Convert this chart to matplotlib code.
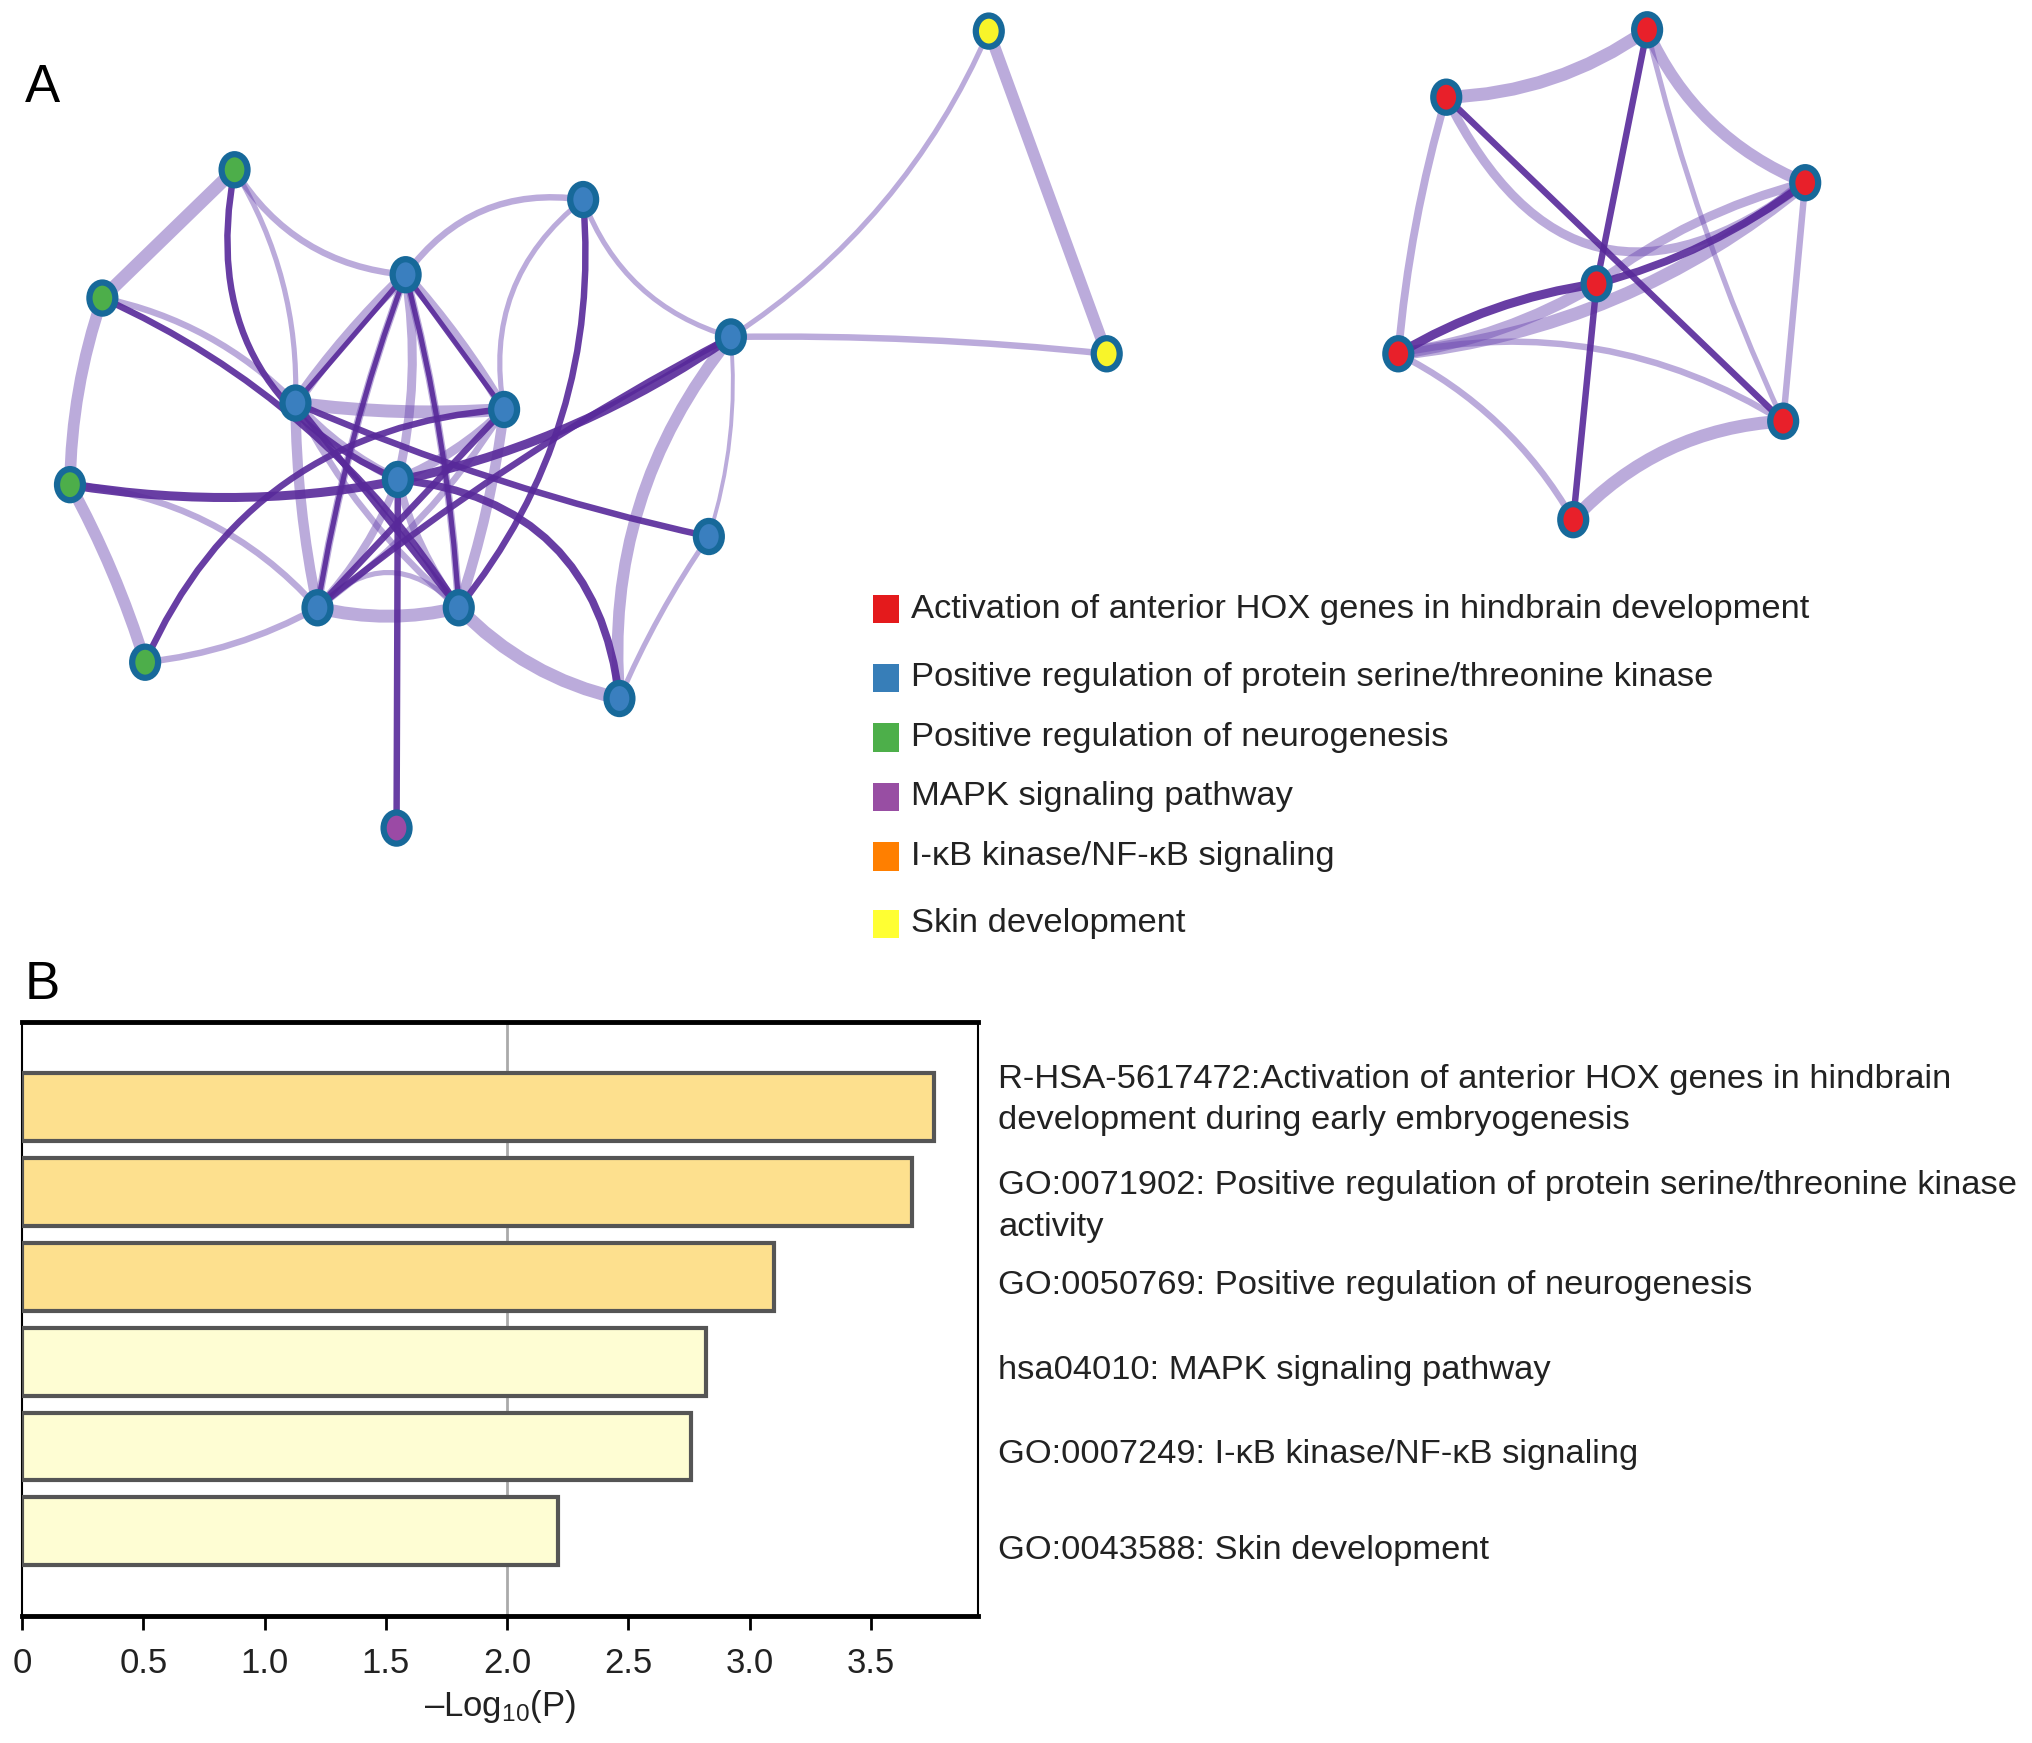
import numpy as np
import matplotlib
matplotlib.use("Agg")
import matplotlib.pyplot as plt
from matplotlib.path import Path
from matplotlib.patches import PathPatch, Ellipse, Rectangle

plt.rcParams['font.family'] = ['Liberation Sans', 'DejaVu Sans']
plt.rcParams['mathtext.fontset'] = 'custom'
plt.rcParams['mathtext.rm'] = 'Liberation Sans'
plt.rcParams['mathtext.it'] = 'Liberation Sans'

# ---- Panel A: network (positions, picture pixels) ----
node_x = [181, 79, 54, 112, 450, 313, 564, 228, 389, 307, 547, 245, 354, 478, 306, 763, 854,
          1271, 1116, 1393, 1232, 1079, 1376, 1214]
node_y = [131, 230, 374, 511, 154, 212, 260, 311, 316, 370, 414, 469, 469, 539, 639, 24, 273,
          23, 75, 141, 219, 273, 325, 401]
node_group = ['g', 'g', 'g', 'g', 'b', 'b', 'b', 'b', 'b', 'b', 'b', 'b', 'b', 'b', 'm', 'y', 'y',
              'r', 'r', 'r', 'r', 'r', 'r', 'r']

# edges: source, target, kind (l = light, d = dark), width, bend
edge_src = [0, 1, 2, 3, 0, 5, 1, 0, 2, 4, 4, 6, 6, 15, 6, 6, 10, 12, 11, 11, 7, 5, 5, 5, 5, 7, 8, 7, 8,
            9, 9, 9, 9, 9,
            0, 1, 2, 3, 4, 6, 7, 7, 8, 9, 9, 5, 5, 5, 5,
            18, 17, 18, 18, 19, 19, 21, 21, 23, 17, 20, 19,
            17, 20, 18, 19, 20]
edge_dst = [1, 2, 3, 11, 5, 4, 7, 7, 11, 6, 8, 15, 16, 16, 10, 13, 13, 13, 12, 12, 8, 7, 8, 11, 12, 11, 12, 12, 11,
            5, 7, 8, 11, 12,
            9, 12, 6, 8, 12, 11, 10, 12, 11, 14, 13, 7, 8, 11, 12,
            17, 19, 21, 19, 21, 22, 22, 23, 22, 22, 21, 20,
            20, 23, 22, 20, 21]
edge_kind = ['l'] * 34 + ['d'] * 15 + ['l'] * 12 + ['d'] * 5
edge_width = [10, 9, 9, 5, 5, 5, 5, 4, 5, 4, 4, 4, 5, 9, 3, 9, 4, 10, 10, 4, 10, 9, 8, 6, 6, 8, 8, 5, 5,
              7, 7, 7, 6, 6,
              5, 5, 7, 5, 5, 5, 5, 5, 5, 5, 6, 4, 4, 4, 4,
              10, 9, 6, 7, 10, 5, 5, 5, 10, 4, 9, 7,
              5, 5, 5, 6, 7]
edge_bend = [0.0, 0.08, -0.05, 0.1, 0.25, -0.3, -0.15, -0.15, -0.2, 0.25, 0.3, 0.15, -0.03, 0.0, -0.1, 0.2, 0.05,
             0.15, 0.12, -0.5, 0.05, 0.05, -0.05, 0.05, -0.05, 0.05, -0.05, 0.1, -0.1,
             0.1, -0.1, 0.1, -0.1, 0.1,
             0.4, -0.15, 0.2, -0.3, -0.2, 0.05, 0.05, 0.0, 0.0, 0.0, -0.4, 0.0, 0.0, 0.05, -0.05,
             0.15, 0.2, 0.05, 0.6, -0.15, 0.0, -0.2, -0.15, -0.2, 0.05, -0.1, 0.1,
             0.0, 0.0, 0.0, -0.1, 0.1]

group_face = {'g': '#4dae4a', 'b': '#3a7fbf', 'm': '#9b4aa5', 'y': '#f8f42a', 'r': '#e8202a'}

legend_labels = ['Activation of anterior HOX genes in hindbrain development',
                 'Positive regulation of protein serine/threonine kinase',
                 'Positive regulation of neurogenesis',
                 'MAPK signaling pathway',
                 'I-κB kinase/NF-κB signaling',
                 'Skin development']
legend_colors = ['#e41a1c', '#377eb8', '#4daf4a', '#984ea3', '#ff7f00', '#ffff33']

# ---- Panel B: enrichment bars ----
terms = ['R-HSA-5617472:Activation of anterior HOX genes in hindbrain\ndevelopment during early embryogenesis',
         'GO:0071902: Positive regulation of protein serine/threonine kinase\nactivity',
         'GO:0050769: Positive regulation of neurogenesis',
         'hsa04010: MAPK signaling pathway',
         'GO:0007249: I-κB kinase/NF-κB signaling',
         'GO:0043588: Skin development']
log_p = [3.76, 3.67, 3.10, 2.82, 2.76, 2.21]
bar_colors = ['#fde08e', '#fde08e', '#fde08e', '#fefdd3', '#fefdd3', '#fefdd3']

W, H = 1568, 1345
fig = plt.figure(figsize=(20.32, 17.43), dpi=100)
ax = fig.add_axes([0, 0, 1, 1])
ax.set_xlim(0, W)
ax.set_ylim(H, 0)
ax.axis('off')

for s, t, k, w, b in zip(edge_src, edge_dst, edge_kind, edge_width, edge_bend):
    p = np.array([node_x[s], node_y[s]], float)
    q = np.array([node_x[t], node_y[t]], float)
    d = q - p
    ctrl = (p + q) / 2 + b * np.array([-d[1], d[0]])
    path = Path([p, ctrl, q], [Path.MOVETO, Path.CURVE3, Path.CURVE3])
    if k == 'l':
        ax.add_patch(PathPatch(path, fc='none', ec='#6a45b0', lw=w * 0.93, alpha=0.45,
                               capstyle='round', zorder=1))
    else:
        ax.add_patch(PathPatch(path, fc='none', ec='#58299a', lw=w * 0.93, alpha=0.9,
                               capstyle='round', zorder=2))

for x, y, g in zip(node_x, node_y, node_group):
    ax.add_patch(Ellipse((x, y), 20, 24, fc=group_face[g], ec='#17699a', lw=4.5, zorder=5))

ax.text(19, 68, 'A', fontsize=38, va='center', ha='left')
ax.text(19, 760, 'B', fontsize=38, va='center', ha='left')

leg_y = [470, 523, 569, 615, 661, 713]
for y, lab, c in zip(leg_y, legend_labels, legend_colors):
    ax.add_patch(Rectangle((674, y - 11), 20, 22, fc=c, ec='none'))
    ax.text(703, y, lab, fontsize=24.8, va='center', ha='left', color='#222222')

# bar chart
bx = fig.add_axes([17 / W, 1 - 1247 / H, (755 - 17) / W, (1247 - 789) / H])
ypos = np.arange(len(terms))
bx.barh(ypos, log_p, height=0.8, color=bar_colors, edgecolor='#555555', linewidth=3, zorder=3)
bx.axvline(2.0, color='#aaaaaa', lw=2, zorder=1)
bx.set_xlim(0, 3.944)
bx.set_ylim(6.0, -1.0)
bx.set_xticks([0, 0.5, 1.0, 1.5, 2.0, 2.5, 3.0, 3.5])
bx.set_xticklabels(['0', '0.5', '1.0', '1.5', '2.0', '2.5', '3.0', '3.5'], fontsize=25, color='#222222')
bx.tick_params(axis='x', direction='out', length=10, width=2, pad=12)
bx.set_xlabel('–Log$_{10}$(P)', fontsize=25, color='#222222', labelpad=6)
bx.set_yticks([])
for side in ['top', 'bottom']:
    bx.spines[side].set_linewidth(3.5)
for side in ['left', 'right']:
    bx.spines[side].set_linewidth(1.5)

label_shift = [-0.09, 0.17, 0.1, 0.1, 0.1, 0.23]
for i, t in enumerate(terms):
    bx.text(1.0205, i + label_shift[i], t, transform=bx.get_yaxis_transform(), fontsize=24.8,
            va='center', ha='left', color='#222222', linespacing=1.42)

fig.savefig('out.png', dpi=100)
